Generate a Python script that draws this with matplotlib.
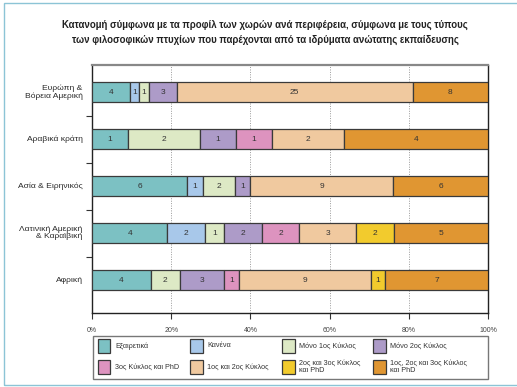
import matplotlib.pyplot as plt
from matplotlib.patches import Rectangle

plt.rcParams['font.family'] = ['Liberation Sans', 'DejaVu Sans']

# Regions, top to bottom
regions = ['Ευρώπη &\nΒόρεια Αμερική', 'Αραβικά κράτη', 'Ασία & Ειρηνικός',
           'Λατινική Αμερική\n& Καραϊβική', 'Αφρική']

# Degree profile categories
profiles = ['Εξαιρετικά', 'Κανένα', 'Μόνο 1ος Κύκλος', 'Μόνο 2ος Κύκλος',
            '3ος Κύκλος και PhD', '1ος και 2ος Κύκλος',
            '2ος και 3ος Κύκλος\nκαι PhD', '1ος, 2ος και 3ος Κύκλος\nκαι PhD']
colors = ['#7cc1c3', '#a8c8ea', '#dde9c5', '#ad9bc8',
          '#dd93bf', '#f0c99f', '#f2cb2d', '#e09632']

# Counts of countries per profile, one list per region
europe = [4, 1, 1, 3, 0, 25, 0, 8]
arab = [1, 0, 2, 1, 1, 2, 0, 4]
asia = [6, 1, 2, 1, 0, 9, 0, 6]
latam = [4, 2, 1, 2, 2, 3, 2, 5]
africa = [4, 0, 2, 3, 1, 9, 1, 7]
counts = [europe, arab, asia, latam, africa]

W, H = 517, 387
fig = plt.figure(figsize=(W / 100, H / 100), dpi=100)
ax = fig.add_axes([0.178, 0.191, 0.766, 0.641])


def px(x, y):
    # pixel position (from top-left) to figure fraction
    return x / W, 1 - y / H


edge = '#3a3a3a'
for i, row in enumerate(counts):
    total = sum(row)
    left = 0.0
    for j, v in enumerate(row):
        if v == 0:
            continue
        w = 100.0 * v / total
        ax.barh(i, w, left=left, height=0.42, color=colors[j],
                edgecolor=edge, linewidth=0.9, zorder=3)
        ax.text(left + w / 2, i, str(v), ha='center', va='center',
                fontsize=6, color='#333333', zorder=4)
        left += w

ax.set_xlim(0, 100)
ax.set_ylim(4.70, -0.574)
ax.set_xticks([0, 20, 40, 60, 80, 100])
ax.set_xticklabels(['0%', '20%', '40%', '60%', '80%', '100%'],
                   fontsize=5, color='#444444')
for x in [20, 40, 60, 80]:
    ax.axvline(x, color='#999999', linestyle=(0, (1, 1.5)), linewidth=0.7, zorder=1)

# region labels at bar centres, ticks at the boundaries
ax.set_yticks([0.5, 1.5, 2.5, 3.5])
ax.set_yticklabels([])
ax.tick_params(axis='y', length=4, width=0.8, color='#333333')
ax.tick_params(axis='x', length=4, width=0.8, color='#333333', pad=6)
for i, name in enumerate(regions):
    ax.text(-2.4, i, name, ha='right', va='center', fontsize=6.1,
            color='#2a2a2a', linespacing=1.15)

for s in ['left', 'right', 'bottom']:
    ax.spines[s].set_color('#222222')
    ax.spines[s].set_linewidth(1.0)
ax.spines['top'].set_color('#888888')
ax.spines['top'].set_linewidth(1.6)

fig.text(0.513, 0.948,
         'Κατανομή σύμφωνα με τα προφίλ των χωρών ανά περιφέρεια, σύμφωνα με τους τύπους\n'
         'των φιλοσοφικών πτυχίων που παρέχονται από τα ιδρύματα ανώτατης εκπαίδευσης',
         ha='center', va='top', fontsize=6.9, fontweight='bold',
         color='#222222', linespacing=1.6)

# legend box, filled row by row on a fixed grid
x0, y0 = px(93, 379)
x1, y1 = px(488, 336)
fig.add_artist(Rectangle((x0, y0), x1 - x0, y1 - y0, transform=fig.transFigure,
                         fill=False, edgecolor='#777777', linewidth=1.0))
col_x = [98, 190, 282, 373]
row_y = [339, 360]
for k, (name, c) in enumerate(zip(profiles, colors)):
    r, col = divmod(k, 4)
    hx, hy = px(col_x[col], row_y[r] + 13.5)
    fig.add_artist(Rectangle((hx, hy), 12.5 / W, 13.5 / H,
                             transform=fig.transFigure, facecolor=c,
                             edgecolor=edge, linewidth=0.9))
    tx, ty = px(col_x[col] + 17, row_y[r] + 6.8)
    fig.text(tx, ty, name, ha='left', va='center', fontsize=5.2,
             color='#333333', linespacing=1.0)

# outer frame
fig.add_artist(Rectangle((4 / W, 2 / H), 1.2, 1 - 5 / H,
                         transform=fig.transFigure, fill=False,
                         edgecolor='#8cc4d6', linewidth=1.0))

fig.savefig('out.png', dpi=100)
